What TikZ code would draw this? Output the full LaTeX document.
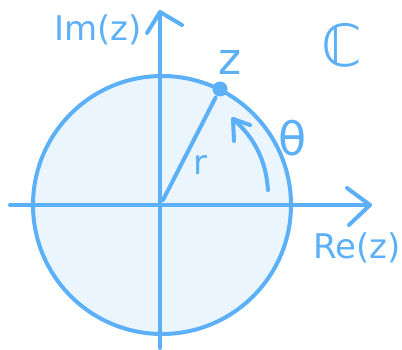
\documentclass[tikz,border=0pt]{standalone}
\usepackage{fontspec}
\setmainfont{DejaVu Sans}
\begin{document}
\begin{tikzpicture}[x=1pt,y=-1pt,
  ink/.style={draw=skyline,line width=4pt,line cap=round,line join=round},
  lbl/.style={text=skyline,inner sep=0pt,font=\fontsize{#1}{#1}\selectfont},
  lbl/.default=24]
\definecolor{skyline}{HTML}{5CB0F8}
\definecolor{skyfill}{HTML}{EBF5FE}
\useasboundingbox (0,0) rectangle (402,350);
% circle
\coordinate (C) at (162,205);
\fill[skyfill] (C) circle (129pt);
\draw[ink] (C) circle (129pt);
% axes
\coordinate (O) at (160,205);
\coordinate (xl) at (10,205);
\coordinate (xr) at (370,205);
\coordinate (xa1) at (347,188);
\coordinate (xa2) at (349,225);
\coordinate (yb) at (160,348);
\coordinate (yt) at (160,12);
\coordinate (ya1) at (147,33);
\coordinate (ya2) at (182,25);
\draw[ink] (xl) -- (xr);
\draw[ink] (xa1) -- (xr) -- (xa2);
\draw[ink] (yb) -- (yt);
\draw[ink] (ya1) -- (yt) -- (ya2);
% point z and radius
\node[circle,fill=skyline,inner sep=0pt,minimum size=15pt] (z) at (220,89) {};
\coordinate (r0) at (163,200);
\draw[ink,shorten >=2pt] (r0) -- (z);
% theta arc
\coordinate (t0) at (268,190);
\coordinate (t1) at (233,119);
\coordinate (ta1) at (250,125);
\coordinate (ta2) at (234,141);
\draw[ink] (t0) .. controls (266,160) and (254,137) .. (t1);
\draw[ink] (ta1) -- (t1) -- (ta2);
% labels
\node[lbl=34] (im) at (98,30) {Im(z)};
\node[lbl=44] (zl) at (230,62) {z};
\node[lbl=58] (cc) at (342,45) {ℂ};
\node[lbl=46] (th) at (293,138) {θ};
\node[lbl=34] (rl) at (200,165) {r};
\node[lbl=34] (re) at (357,248) {Re(z)};
\end{tikzpicture}
\end{document}
